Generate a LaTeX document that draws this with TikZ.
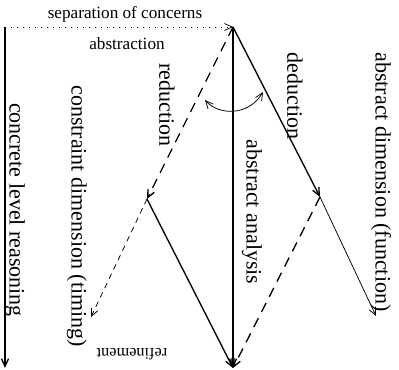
\documentclass[tikz,border=0pt]{standalone}
\usepackage{fontspec}
\setmainfont{Liberation Serif}
\usetikzlibrary{arrows.meta,positioning}

\begin{document}
\begin{tikzpicture}[
  x=0.6pt, y=-0.6pt, font=\fontsize{10.3}{12}\selectfont, inner sep=1pt,
  vlbl/.style={rotate=-90,font=\fontsize{13.2}{15}\selectfont},
  small/.style={font=\fontsize{9.8}{11}\selectfont},
  tip/.style={-{Straight Barb[length=4.6pt,width=4.2pt]}},
  main/.style={tip,line width=0.8pt},
  axis/.style={tip,line width=0.45pt},
  bigdash/.style={dash pattern=on 6pt off 4.2pt},
  smalldash/.style={dash pattern=on 3.4pt off 2.8pt},
  dots/.style={dash pattern=on 0.6pt off 3pt}]
\useasboundingbox (0,0) rectangle (399,370);
% corner points of the scheme
\coordinate (orig) at (5,27);
\coordinate (top) at (233,27);
\coordinate (conc) at (5,368);
\coordinate (bot) at (233,368);
\coordinate (ded) at (320,197);
\coordinate (red) at (147,199);
\coordinate (func) at (376,316);
\coordinate (timing) at (91,317);
\coordinate (cl) at (205,100);
\coordinate (cr) at (263,92);
% labels
\node (sep) at (125,14) {separation of concerns};
\node (abst) at (127,44) {abstraction};
\node[vlbl] (concl) at (15,210) {concrete level reasoning};
\node[vlbl] (timl) at (77,216) {constraint dimension (timing)};
\node[vlbl] (redl) at (167,105) {reduction};
\node[vlbl] (anal) at (252,212) {abstract analysis};
\node[vlbl] (dedl) at (295,96) {deduction};
\node[vlbl] (funl) at (381,182) {abstract dimension (function)};
\node[small,rotate=180] (refl) at (132,354) {refinement};
% connectors
\draw[axis,dots](orig)--(top);
\draw[main](orig)--(conc);
\draw[main](top)--(bot);
\draw[main](top)--(ded);
\draw[axis](ded)--(func);
\draw[main,bigdash](top)--(red);
\draw[axis,smalldash](red)--(timing);
\draw[main](red)--(bot);
\draw[main,bigdash](ded)--(bot);
\draw[axis,{Straight Barb[length=4.6pt,width=4.2pt]}-{Straight Barb[length=4.6pt,width=4.2pt]}](cl).. controls (218,115) and (248,117) ..(cr);
\end{tikzpicture}
\end{document}
